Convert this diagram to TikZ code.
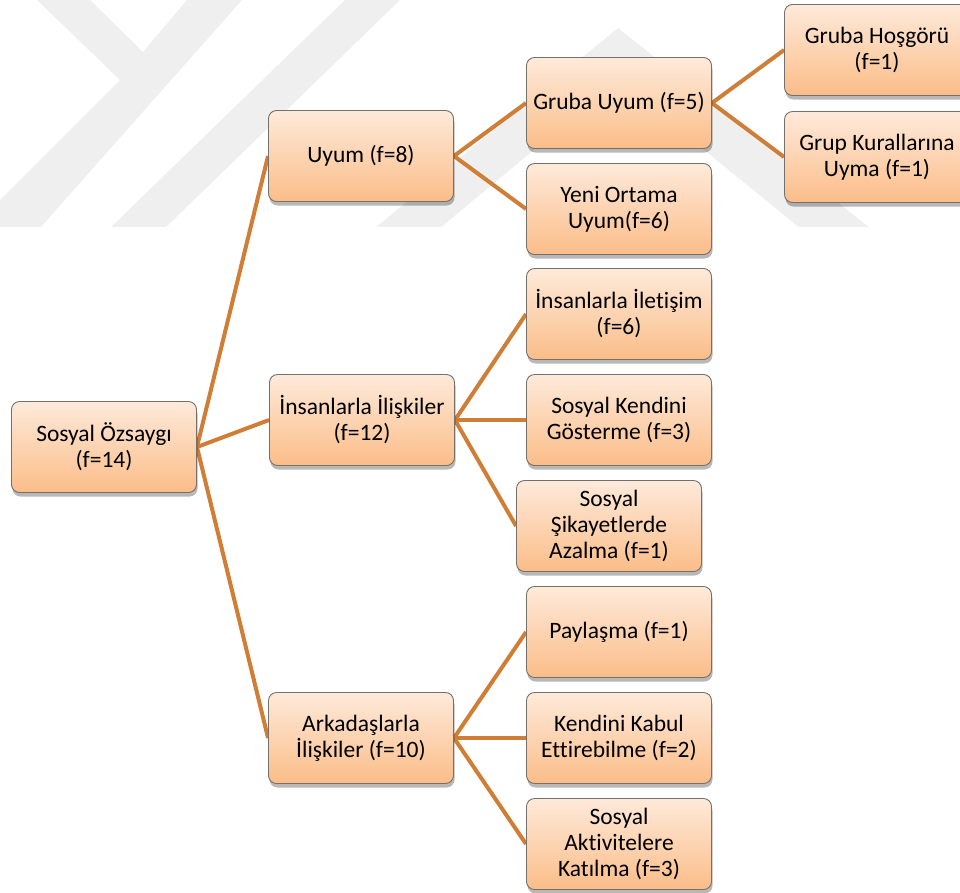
\documentclass[tikz,border=0pt]{standalone}
\usepackage{fontspec}
\setmainfont{Carlito}[Ligatures=NoCommon]
\usetikzlibrary{shadows}

\definecolor{boxtop}{RGB}{254,234,218}
\definecolor{boxbot}{RGB}{251,189,137}
\definecolor{boxline}{RGB}{118,112,106}
\definecolor{conncol}{RGB}{208,126,54}
\definecolor{wmgray}{RGB}{239,239,239}

\pgfdeclarelayer{wm}
\pgfdeclarelayer{links}
\pgfsetlayers{wm,links,main}

\tikzset{
  box/.style={rectangle, rounded corners=8pt, draw=boxline, line width=0.9pt,
    top color=boxtop, bottom color=boxbot,
    minimum width=185pt, minimum height=91pt, inner sep=0pt, align=center,
    font=\fontsize{23.5}{26}\selectfont,
    drop shadow={shadow xshift=1pt, shadow yshift=-4pt, opacity=0.28, fill=black}},
  conn/.style={draw=conncol, line width=4pt},
  wmband/.style={fill=wmgray}
}

\begin{document}
\begin{tikzpicture}[x=1pt,y=-1pt]
\useasboundingbox (0,0) rectangle (960,892);

% faint logo in the background
\begin{pgfonlayer}{wm}
  \begin{scope}
    \clip (0,0) rectangle (960,226);
    \fill[wmband] (37,0) -- (90,0) -- (143,52) -- (187,0) -- (242,0) -- (40,228)
      -- (0,228) -- (0,200) -- (120,80) -- cycle;
    \fill[wmband] (345,0) -- (400,0) -- (165,228) -- (110,228) -- cycle;
    \fill[wmband] (618,28) -- (870,228) -- (800,228) -- (618,80) -- (440,228) -- (375,228) -- cycle;
  \end{scope}
\end{pgfonlayer}

% level 0
\node[box] (root) at (104,447) {Sosyal Özsaygı\\(f=14)};

% level 1
\node[box] (uyum)  at (361,156) {Uyum (f=8)};
\node[box] (insan) at (362,420) {İnsanlarla İlişkiler\\(f=12)};
\node[box] (arkad) at (361,738) {Arkadaşlarla\\İlişkiler (f=10)};

% level 2
\node[box] (grubauyum) at (619,103) {Gruba Uyum (f=5)};
\node[box] (yeni)      at (619,209) {Yeni Ortama\\Uyum(f=6)};
\node[box] (iletisim)  at (619,314) {İnsanlarla İletişim\\(f=6)};
\node[box] (kendini)   at (619,420) {Sosyal Kendini\\Gösterme (f=3)};
\node[box] (sikayet)   at (609,526) {Sosyal\\Şikayetlerde\\Azalma (f=1)};
\node[box] (paylasma)  at (619,632) {Paylaşma (f=1)};
\node[box] (kabul)     at (619,738) {Kendini Kabul\\Ettirebilme (f=2)};
\node[box] (aktivite)  at (619,844) {Sosyal\\Aktivitelere\\Katılma (f=3)};

% level 3
\node[box] (hosgoru) at (877,50)  {Gruba Hoşgörü\\(f=1)};
\node[box] (kural)   at (877,157) {Grup Kurallarına\\Uyma (f=1)};

% connectors
\begin{pgfonlayer}{links}
  \foreach \c in {uyum,insan,arkad}
    \draw[conn] (root.east) -- (\c.west);
  \foreach \c in {grubauyum,yeni}
    \draw[conn] (uyum.east) -- (\c.west);
  \foreach \c in {hosgoru,kural}
    \draw[conn] (grubauyum.east) -- (\c.west);
  \foreach \c in {iletisim,kendini,sikayet}
    \draw[conn] (insan.east) -- (\c.west);
  \foreach \c in {paylasma,kabul,aktivite}
    \draw[conn] (arkad.east) -- (\c.west);
\end{pgfonlayer}
\end{tikzpicture}
\end{document}
